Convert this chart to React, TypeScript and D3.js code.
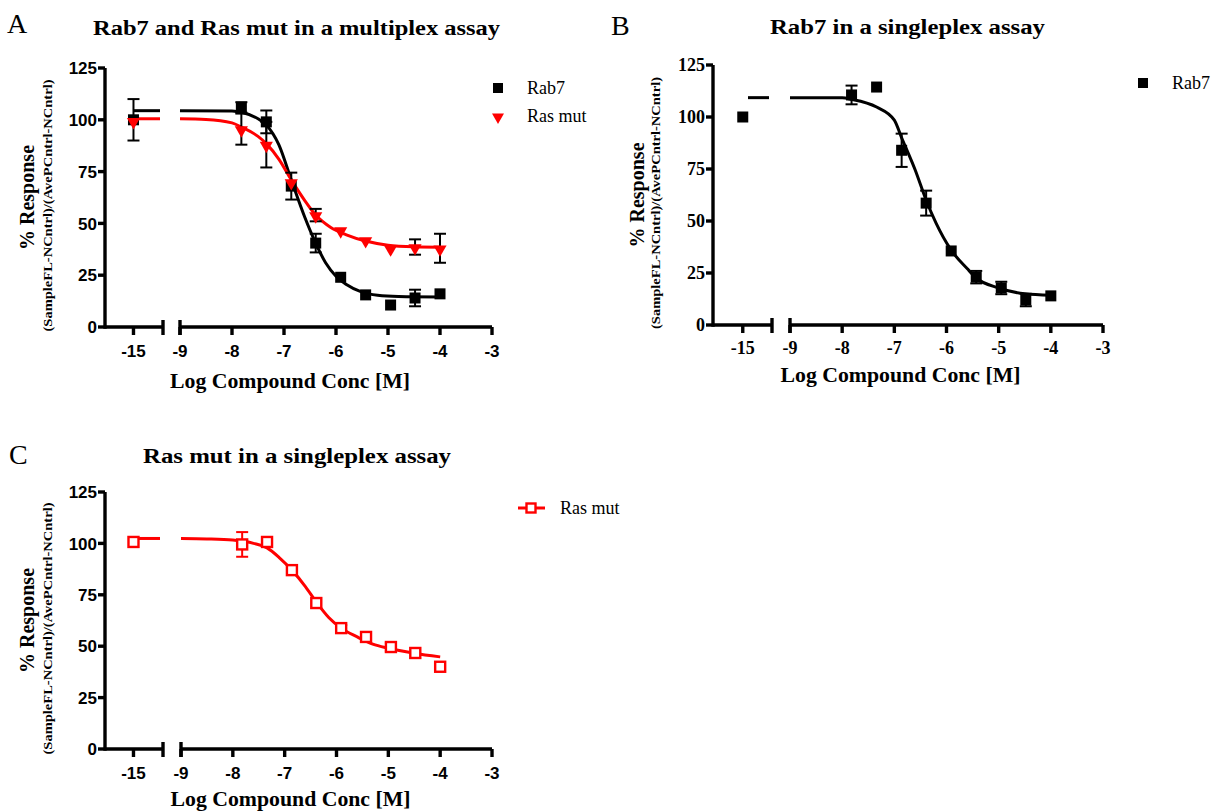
import React from "react";
import * as d3 from "d3";

// ---------- shared ----------
const CONTROL_LOG = -15;
const CONC_LOG = [-7.82, -7.34, -6.86, -6.39, -5.91, -5.43, -4.95, -4.48, -4.0];
const Y_TICKS = [0, 25, 50, 75, 100, 125];
const X_TICKS_LEFT = [-15];
const X_TICKS_RIGHT = [-9, -8, -7, -6, -5, -4, -3];

// ---------- Panel A : multiplex ----------
const A_RAB7 = [106, 99, 68, 40.5, 24, 15.5, 10.6, 14, 16];
const A_RAB7_ERR = [2.5, 5.5, 6.5, 4.5, 0, 0, 0, 4, 0];
const A_RAB7_CTRL = 100;
const A_RAB7_CTRL_ERR = 10;
const A_RAB7_FIT_X = [-9, -8, -7.8, -7.5, -7.34, -7.1, -6.86, -6.6, -6.4, -6.2, -6, -5.8, -5.5, -5.2, -4.8, -4];
const A_RAB7_FIT_Y = [104.4, 104.2, 103.5, 100.5, 97.5, 88, 71, 53, 41, 31, 24.5, 20.5, 16.8, 15.3, 14.7, 14.5];

const A_RAS = [95.5, 88, 70, 54, 46.8, 42, 38, 38.6, 38];
const A_RAS_ERR = [7.5, 11, 0, 3, 0, 0, 0, 3.7, 7];
const A_RAS_CTRL = 99.5;
const A_RAS_CTRL_ERR = 0;
const A_RAS_FIT_X = [-9, -8.5, -8, -7.82, -7.5, -7.34, -7.1, -6.86, -6.6, -6.39, -6.1, -5.8, -5.43, -5, -4.5, -4];
const A_RAS_FIT_Y = [100.5, 100.2, 98.5, 96.5, 92, 88.5, 81, 71, 61, 54, 48, 44.5, 41.5, 39.5, 38.7, 38.5];

// ---------- Panel B : Rab7 singleplex ----------
const B_RAB7 = [110.6, 114.4, 84, 58.6, 35.6, 23, 17.8, 12, 14];
const B_RAB7_ERR = [4.5, 0, 8, 6, 0, 3, 3, 3, 0];
const B_RAB7_CTRL = 100;
const B_RAB7_CTRL_ERR = 0;
const B_RAB7_FIT_X = [-9, -8, -7.82, -7.34, -7.0, -6.86, -6.6, -6.39, -6.2, -5.91, -5.6, -5.43, -5, -4.5, -4];
const B_RAB7_FIT_Y = [109.3, 109.2, 108.5, 104.8, 98.5, 90, 74.5, 60, 49, 36, 27, 22.6, 17.8, 15, 14.3];

// ---------- Panel C : Ras mut singleplex ----------
const C_RAS = [99.5, 100.7, 87, 71, 58.8, 54.5, 49.6, 46.7, 40];
const C_RAS_ERR = [6, 0, 0, 0, 1.5, 0, 2, 0, 0];
const C_RAS_CTRL = 100.7;
const C_RAS_CTRL_ERR = 0;
const C_RAS_FIT_X = [-9, -8.5, -8, -7.6, -7.34, -7.1, -6.86, -6.6, -6.39, -6.15, -5.91, -5.6, -5.3, -5, -4.5, -4];
const C_RAS_FIT_Y = [102.4, 102.2, 101.6, 100, 97.8, 93, 87, 79, 71.5, 64, 58.8, 54.5, 51, 49, 46.6, 44.8];

const RED = "#ff0000";
const BLACK = "#000000";
const SERIF = "'Liberation Serif', 'Times New Roman', serif";
const SANS = "'Liberation Sans', Arial, sans-serif";

type Marker = "square" | "triangle" | "openSquare";
type Series = {
  name: string;
  values: number[];
  errs: number[];
  ctrl: number;
  ctrlErr: number;
  fitX: number[];
  fitY: number[];
  color: string;
  marker: Marker;
  leftStart: number;
};

type Layout = {
  letter: string;
  letterX: number;
  letterY: number;
  title: string;
  titleX: number;
  titleY: number;
  titleLen: number;
  yAxisX: number;
  y0: number;
  y125: number;
  leftDomain: [number, number];
  leftEnd: number;
  rightStart: number;
  rightEnd: number;
  tickFont: string;
  tickSize: number;
  xTickY: number;
  xTitleY: number;
  xTitleLen: number;
  yTitleX: number;
  ySubX: number;
  legendX: number;
  legendY: number;
  legendStyle: "marker" | "line";
};

function MarkerShape({ type, x, y, color, size = 11 }: { type: Marker; x: number; y: number; color: string; size?: number }) {
  if (type === "triangle") {
    const p = d3.symbol().type(d3.symbolTriangle).size(size * size * 0.62)();
    return <path d={p || ""} transform={`translate(${x},${y + 1}) rotate(180)`} fill={color} />;
  }
  if (type === "openSquare") {
    const s = size - 1;
    return <rect x={x - s / 2} y={y - s / 2} width={s} height={s} fill="white" stroke={color} strokeWidth={2.4} />;
  }
  return <rect x={x - size / 2} y={y - size / 2} width={size} height={size} fill={color} />;
}

function Panel({ L, series, errColor }: { L: Layout; series: Series[]; errColor: (s: Series) => string }) {
  const y = d3.scaleLinear().domain([0, 125]).range([L.y0, L.y125]);
  const xL = d3.scaleLinear().domain(L.leftDomain).range([L.yAxisX, L.leftEnd]);
  const xR = d3.scaleLinear().domain([-9, -3]).range([L.rightStart, L.rightEnd]);
  const line = d3
    .line<[number, number]>()
    .x((d) => xR(d[0]))
    .y((d) => y(d[1]))
    .curve(d3.curveMonotoneX);
  const axisW = 3.4;
  const tickLen = 7;
  const cy = (L.y0 + L.y125) / 2;

  return (
    <g>
      <text x={L.letterX} y={L.letterY} fontFamily={SERIF} fontSize={28}>{L.letter}</text>
      <text x={L.titleX} y={L.titleY} fontFamily={SERIF} fontWeight="bold" fontSize={20.5}
        textLength={L.titleLen} lengthAdjust="spacingAndGlyphs">{L.title}</text>

      {/* y axis */}
      <line x1={L.yAxisX} x2={L.yAxisX} y1={L.y0 + axisW / 2} y2={L.y125} stroke="black" strokeWidth={axisW} />
      {Y_TICKS.map((t) => (
        <g key={t}>
          <line x1={L.yAxisX - tickLen} x2={L.yAxisX} y1={y(t)} y2={y(t)} stroke="black" strokeWidth={axisW} />
          <text x={L.yAxisX - tickLen - 1} y={y(t)} dy="0.36em" textAnchor="end" fontFamily={L.tickFont}
            fontWeight="bold" fontSize={L.tickSize}>{t}</text>
        </g>
      ))}

      {/* x axis, left segment */}
      <line x1={L.yAxisX} x2={L.leftEnd} y1={L.y0} y2={L.y0} stroke="black" strokeWidth={axisW} />
      <line x1={L.leftEnd} x2={L.leftEnd} y1={L.y0 - 7} y2={L.y0 + 8} stroke="black" strokeWidth={axisW} />
      {X_TICKS_LEFT.map((t) => (
        <g key={t}>
          <line x1={xL(t)} x2={xL(t)} y1={L.y0} y2={L.y0 + tickLen + 1} stroke="black" strokeWidth={axisW} />
          <text x={xL(t)} y={L.xTickY} textAnchor="middle" fontFamily={L.tickFont} fontWeight="bold"
            fontSize={L.tickSize}>{t}</text>
        </g>
      ))}
      {/* x axis, right segment */}
      <line x1={L.rightStart} x2={L.rightEnd} y1={L.y0} y2={L.y0} stroke="black" strokeWidth={axisW} />
      <line x1={L.rightStart} x2={L.rightStart} y1={L.y0 - 7} y2={L.y0 + 8} stroke="black" strokeWidth={axisW} />
      {X_TICKS_RIGHT.map((t) => (
        <g key={t}>
          <line x1={xR(t)} x2={xR(t)} y1={L.y0} y2={L.y0 + tickLen + 1} stroke="black" strokeWidth={axisW} />
          <text x={xR(t)} y={L.xTickY} textAnchor="middle" fontFamily={L.tickFont} fontWeight="bold"
            fontSize={L.tickSize}>{t}</text>
        </g>
      ))}

      {/* axis titles */}
      <text x={(L.rightStart + L.rightEnd) / 2 - 46} y={L.xTitleY} textAnchor="middle" fontFamily={SERIF}
        fontWeight="bold" fontSize={20.5} textLength={L.xTitleLen} lengthAdjust="spacingAndGlyphs">
        Log Compound Conc [M]
      </text>
      <text transform={`translate(${L.yTitleX},${cy}) rotate(-90)`} textAnchor="middle" dy="0.35em"
        fontFamily={SERIF} fontWeight="bold" fontSize={20}>% Response</text>
      <text transform={`translate(${L.ySubX},${cy + 8}) rotate(-90)`} textAnchor="middle" dy="0.35em"
        fontFamily={SERIF} fontWeight="bold" fontSize={13.5} textLength={252} lengthAdjust="spacingAndGlyphs">
        (SampleFL-NCntrl)/(AvePCntrl-NCntrl)
      </text>

      {/* fitted curves */}
      {series.map((s) => (
        <g key={s.name + "fit"}>
          <line x1={xL(s.leftStart)} x2={L.leftEnd - 3} y1={y(s.fitY[0])} y2={y(s.fitY[0])} stroke={s.color}
            strokeWidth={3} />
          <path d={line(s.fitX.map((v, i) => [v, s.fitY[i]] as [number, number])) || ""} fill="none"
            stroke={s.color} strokeWidth={3} />
        </g>
      ))}

      {/* error bars */}
      {series.map((s) => {
        const pts = [{ px: xL(CONTROL_LOG), v: s.ctrl, e: s.ctrlErr }].concat(
          CONC_LOG.map((c, i) => ({ px: xR(c), v: s.values[i], e: s.errs[i] }))
        );
        return (
          <g key={s.name + "err"} stroke={errColor(s)} strokeWidth={2}>
            {pts.filter((p) => p.e > 0).map((p, i) => (
              <g key={i}>
                <line x1={p.px} x2={p.px} y1={y(p.v + p.e)} y2={y(p.v - p.e)} />
                <line x1={p.px - 6} x2={p.px + 6} y1={y(p.v + p.e)} y2={y(p.v + p.e)} />
                <line x1={p.px - 6} x2={p.px + 6} y1={y(p.v - p.e)} y2={y(p.v - p.e)} />
              </g>
            ))}
          </g>
        );
      })}

      {/* markers */}
      {series.map((s) => (
        <g key={s.name + "pts"}>
          <MarkerShape type={s.marker} x={xL(CONTROL_LOG)} y={y(s.ctrl)} color={s.color} />
          {CONC_LOG.map((c, i) => (
            <MarkerShape key={i} type={s.marker} x={xR(c)} y={y(s.values[i])} color={s.color} />
          ))}
        </g>
      ))}

      {/* legend */}
      {series.map((s, i) => (
        <g key={s.name + "leg"} transform={`translate(${L.legendX},${L.legendY + i * 28})`}>
          {L.legendStyle === "line" ? (
            <g>
              <line x1={-13} x2={14} y1={0} y2={0} stroke={s.color} strokeWidth={3} />
              <MarkerShape type={s.marker} x={0} y={0} color={s.color} size={10} />
            </g>
          ) : (
            <MarkerShape type={s.marker} x={0} y={0} color={s.color} size={10} />
          )}
          <text x={29} y={0} dy="0.33em" fontFamily={SERIF} fontSize={18}>
            {s.name}
          </text>
        </g>
      ))}
    </g>
  );
}

export default function App() {
  const layoutA: Layout = {
    letter: "A", letterX: 7, letterY: 33,
    title: "Rab7 and Ras mut in a multiplex assay", titleX: 93, titleY: 35, titleLen: 407,
    yAxisX: 105, y0: 327, y125: 68,
    leftDomain: [-15.55, -14.43], leftEnd: 163, rightStart: 180, rightEnd: 492,
    tickFont: SANS, tickSize: 17, xTickY: 357, xTitleY: 388, xTitleLen: 240,
    yTitleX: 27, ySubX: 47, legendX: 498, legendY: 88, legendStyle: "marker",
  };
  const layoutB: Layout = {
    letter: "B", letterX: 611, letterY: 35,
    title: "Rab7 in a singleplex assay", titleX: 770, titleY: 34, titleLen: 275,
    yAxisX: 713, y0: 325, y125: 65,
    leftDomain: [-15.57, -14.44], leftEnd: 772, rightStart: 790, rightEnd: 1103,
    tickFont: SERIF, tickSize: 18, xTickY: 354, xTitleY: 382, xTitleLen: 240,
    yTitleX: 637, ySubX: 655, legendX: 1143, legendY: 83, legendStyle: "marker",
  };
  const layoutC: Layout = {
    letter: "C", letterX: 9, letterY: 464,
    title: "Ras mut in a singleplex assay", titleX: 143, titleY: 463, titleLen: 308,
    yAxisX: 105, y0: 749, y125: 492,
    leftDomain: [-15.55, -14.43], leftEnd: 163, rightStart: 181, rightEnd: 492,
    tickFont: SANS, tickSize: 17, xTickY: 779, xTitleY: 806, xTitleLen: 240,
    yTitleX: 27, ySubX: 47, legendX: 531, legendY: 508, legendStyle: "line",
  };

  const seriesA: Series[] = [
    { name: "Rab7", values: A_RAB7, errs: A_RAB7_ERR, ctrl: A_RAB7_CTRL, ctrlErr: A_RAB7_CTRL_ERR,
      fitX: A_RAB7_FIT_X, fitY: A_RAB7_FIT_Y, color: BLACK, marker: "square", leftStart: -15 },
    { name: "Ras mut", values: A_RAS, errs: A_RAS_ERR, ctrl: A_RAS_CTRL, ctrlErr: A_RAS_CTRL_ERR,
      fitX: A_RAS_FIT_X, fitY: A_RAS_FIT_Y, color: RED, marker: "triangle", leftStart: -15 },
  ];
  const seriesB: Series[] = [
    { name: "Rab7", values: B_RAB7, errs: B_RAB7_ERR, ctrl: B_RAB7_CTRL, ctrlErr: B_RAB7_CTRL_ERR,
      fitX: B_RAB7_FIT_X, fitY: B_RAB7_FIT_Y, color: BLACK, marker: "square", leftStart: -14.9 },
  ];
  const seriesC: Series[] = [
    { name: "Ras mut", values: C_RAS, errs: C_RAS_ERR, ctrl: C_RAS_CTRL, ctrlErr: C_RAS_CTRL_ERR,
      fitX: C_RAS_FIT_X, fitY: C_RAS_FIT_Y, color: RED, marker: "openSquare", leftStart: -15 },
  ];

  return (
    <svg width={1218} height={811} style={{ position: "absolute", left: 0, top: 0, background: "white" }}>
      <rect width={1218} height={811} fill="white" />
      <Panel L={layoutA} series={seriesA} errColor={() => BLACK} />
      <Panel L={layoutB} series={seriesB} errColor={() => BLACK} />
      <Panel L={layoutC} series={seriesC} errColor={() => RED} />
    </svg>
  );
}
